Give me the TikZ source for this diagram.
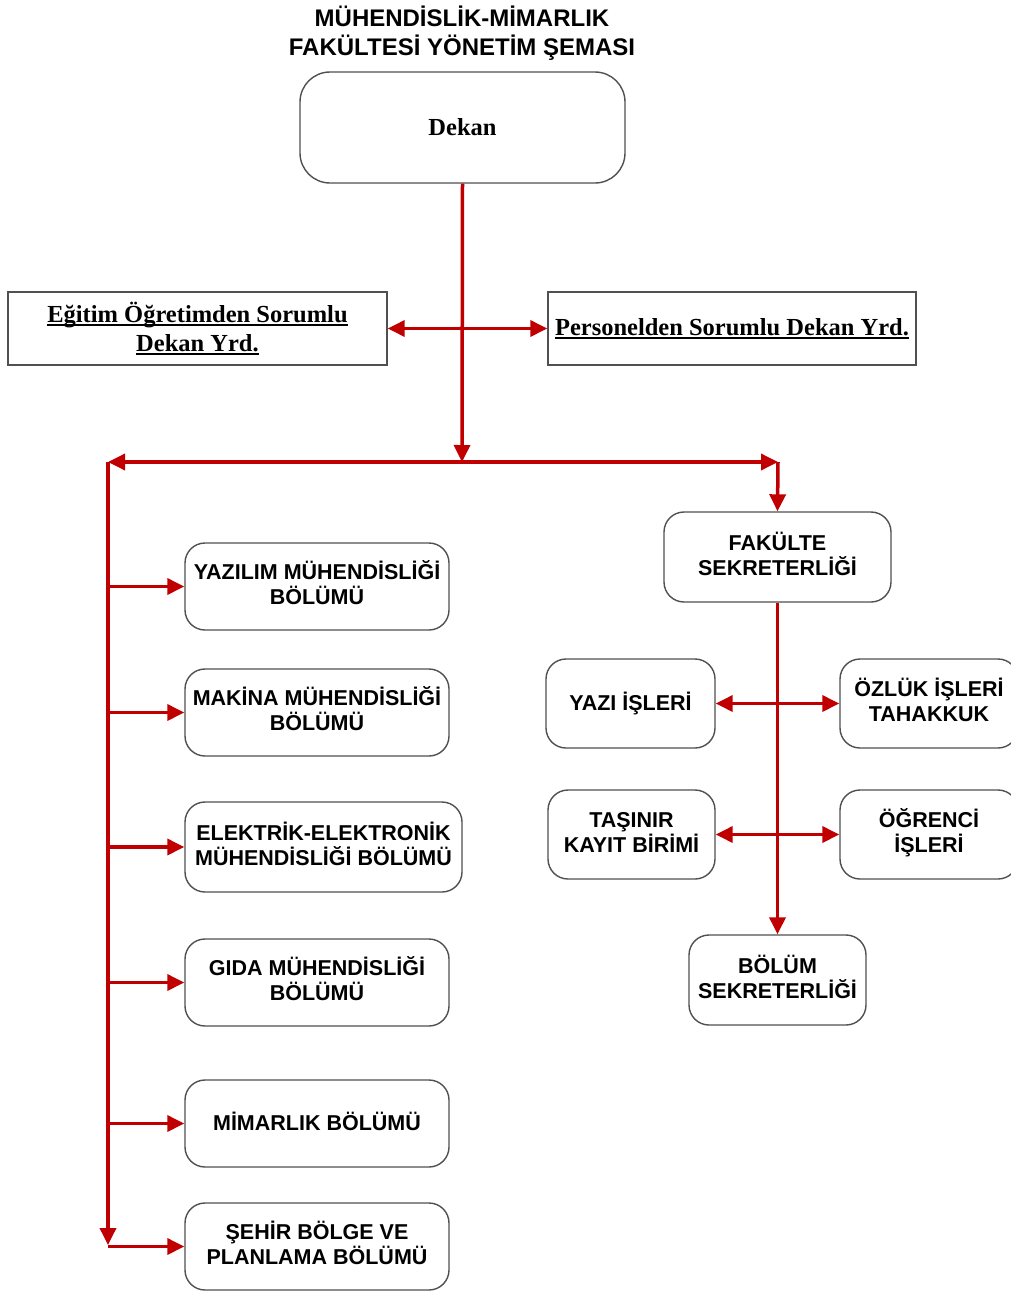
\documentclass[tikz,border=0pt]{standalone}
\usepackage{fontspec}
\setmainfont{Liberation Serif}
\newfontfamily\arial{Liberation Sans}
\usetikzlibrary{arrows.meta}

\definecolor{kirmizi}{RGB}{192,0,0}
\definecolor{cerceve}{RGB}{80,80,80}

% kalın alt çizgi
\newcommand\altcizgi[1]{\setbox0\hbox{#1}\rlap{\rule[-3.5pt]{\wd0}{1.8pt}}\box0}

\tikzset{
  birim/.style={draw=cerceve, line width=1.4pt, rounded corners=20pt, fill=white,
    align=center, inner sep=0pt, text height=19.5pt, text depth=4.6pt,
    font=\arial\bfseries\fontsize{21.5}{25}\selectfont},
  ikisatir/.style={text height=41pt},
  yrd/.style={draw=cerceve, line width=1.4pt, fill=white, align=center, inner sep=0pt,
    font=\bfseries\fontsize{24.5}{29}\selectfont},
  ok/.style={draw=kirmizi, line width=3.5pt, -{Triangle[length=17pt,width=16pt]}},
  ciftok/.style={ok, {Triangle[length=17pt,width=16pt]}-{Triangle[length=17pt,width=16pt]}},
}

\begin{document}
\begin{tikzpicture}[x=1pt, y=-1pt]
    \useasboundingbox (0,0) rectangle (1011,1293);

    % Başlık
    \node[align=center, font=\arial\bfseries\fontsize{24}{29}\selectfont] (baslik) at (462,33)
        {MÜHENDİSLİK-MİMARLIK\\FAKÜLTESİ YÖNETİM ŞEMASI};

    % Dekan ve yardımcıları
    \node[draw=cerceve, line width=1.4pt, rounded corners=30pt, fill=white, inner sep=0pt,
        minimum width=325pt, minimum height=111pt,
        font=\bfseries\fontsize{24.5}{29}\selectfont] (dekan) at (462.5,127.5) {Dekan};
    \node[yrd, minimum width=379pt, minimum height=73pt] (egitim) at (197.5,328.5)
        {\altcizgi{Eğitim Öğretimden Sorumlu}\\\altcizgi{Dekan Yrd.}};
    \node[yrd, minimum width=368pt, minimum height=73pt] (personel) at (732,328.5)
        {\altcizgi{Personelden Sorumlu Dekan Yrd.}};

    % Bölümler
    \node[birim, ikisatir, minimum width=264pt, minimum height=87pt] (yazilim) at (317,586.5) {YAZILIM MÜHENDİSLİĞİ\\BÖLÜMÜ};
    \node[birim, ikisatir, minimum width=264pt, minimum height=87pt] (makina) at (317,712.5) {MAKİNA MÜHENDİSLİĞİ\\BÖLÜMÜ};
    \node[birim, ikisatir, minimum width=277pt, minimum height=90pt] (elektrik) at (323.5,847) {ELEKTRİK-ELEKTRONİK\\MÜHENDİSLİĞİ BÖLÜMÜ};
    \node[birim, ikisatir, minimum width=264pt, minimum height=87pt] (gida) at (317,982.5) {GIDA MÜHENDİSLİĞİ\\BÖLÜMÜ};
    \node[birim, minimum width=264pt, minimum height=87pt] (mimarlik) at (317,1123.5) {MİMARLIK BÖLÜMÜ};
    \node[birim, ikisatir, minimum width=264pt, minimum height=87pt] (sehir) at (317,1246.5) {ŞEHİR BÖLGE VE\\PLANLAMA BÖLÜMÜ};

    % Sekreterlik birimleri
    \node[birim, ikisatir, minimum width=227pt, minimum height=90pt] (fakulte) at (777.5,557) {FAKÜLTE\\SEKRETERLİĞİ};
    \node[birim, minimum width=169pt, minimum height=89pt] (yazi) at (630.5,703.5) {YAZI İŞLERİ};
    \node[birim, ikisatir, minimum width=178pt, minimum height=89pt] (ozluk) at (929,703.5) {ÖZLÜK İŞLERİ\\TAHAKKUK};
    \node[birim, ikisatir, minimum width=167pt, minimum height=89pt] (tasinir) at (631.5,834.5) {TAŞINIR\\KAYIT BİRİMİ};
    \node[birim, ikisatir, minimum width=178pt, minimum height=89pt] (ogrenci) at (929,834.5) {ÖĞRENCİ\\İŞLERİ};
    \node[birim, ikisatir, minimum width=177pt, minimum height=90pt] (bolum) at (777.5,980) {BÖLÜM\\SEKRETERLİĞİ};

    % Dallanma noktaları
    \coordinate (dal) at (462,462);
    \coordinate (solust) at (108,462);
    \coordinate (sagust) at (778,462);
    \coordinate (solalt) at (108,1245);

    % Oklar
    \draw[ciftok] (egitim.east) -- (personel.west);
    \draw[ok] (dekan.south) -- (dal);
    \draw[ok] (dal) -- (solust);
    \draw[ok] (dal) -- (sagust);
    \draw[ok] (sagust) -- (fakulte.north);
    \draw[ok] (solust) -- (solalt);
    \foreach \b in {yazilim,makina,elektrik,gida,mimarlik,sehir}
        \draw[ok] (solust |- \b.west) -- (\b.west);
    \draw[ok] (fakulte.south) -- (bolum.north);
    \draw[ciftok] (yazi.east) -- (ozluk.west);
    \draw[ciftok] (tasinir.east) -- (ogrenci.west);

\end{tikzpicture}
\end{document}
